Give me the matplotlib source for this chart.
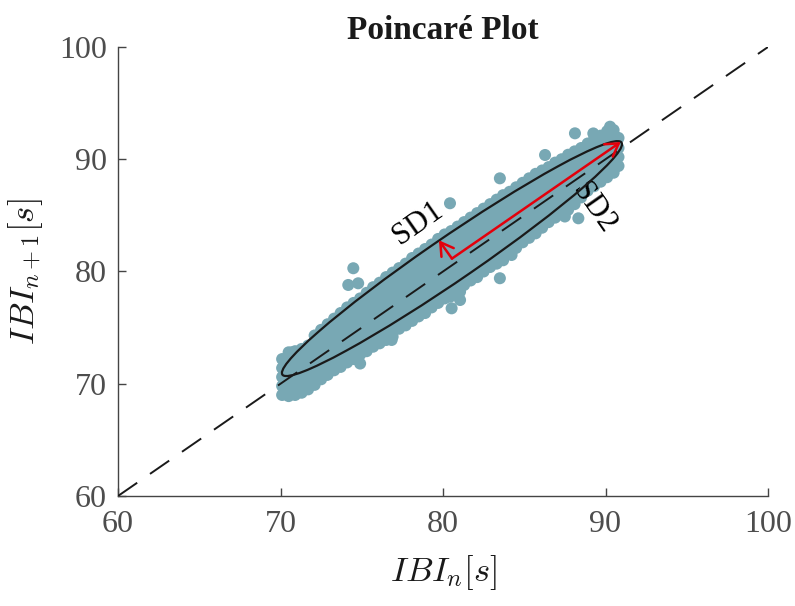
import matplotlib
matplotlib.use("Agg")
import matplotlib.pyplot as plt
from matplotlib.patches import Ellipse

# ---- data ----
col_x = [70.1, 70.5, 70.9, 71.3, 71.7, 72.1, 72.5, 72.9, 73.3, 73.7, 74.1, 74.5, 74.9,
         75.3, 75.7, 76.1, 76.5, 76.9, 77.3, 77.7, 78.1, 78.5, 78.9, 79.3, 79.7, 80.1,
         80.5, 80.9, 81.3, 81.7, 82.1, 82.5, 82.9, 83.3, 83.7, 84.1, 84.5, 84.9, 85.3,
         85.7, 86.1, 86.5, 86.9, 87.3, 87.7, 88.1, 88.5, 88.9, 89.3, 89.7, 90.1, 90.5, 90.8]
col_y = [
    [69.0, 69.8, 70.6, 71.4, 72.2],
    [68.9, 69.7, 70.5, 71.3, 72.1, 72.8],
    [69.0, 69.8, 70.6, 71.4, 72.2, 72.9],
    [69.2, 70.0, 70.8, 71.6, 72.4, 73.1],
    [69.5, 70.3, 71.1, 71.9, 72.7, 73.4],
    [69.9, 70.7, 71.5, 72.3, 73.1, 73.8, 74.3],
    [70.4, 71.2, 72.0, 72.8, 73.6, 74.3, 74.8],
    [70.8, 71.6, 72.4, 73.2, 74.0, 74.7, 75.3],
    [71.2, 72.0, 72.8, 73.6, 74.4, 75.1, 75.8],
    [71.5, 72.3, 73.1, 73.9, 74.7, 75.5, 76.3],
    [71.9, 72.7, 73.5, 74.3, 75.1, 75.9, 76.8],
    [72.2, 73.0, 73.8, 74.6, 75.4, 76.2, 77.0, 77.2],
    [71.8, 72.6, 73.4, 74.2, 75.0, 75.8, 76.6, 77.6],
    [72.9, 73.7, 74.5, 75.3, 76.1, 76.9, 77.6, 78.1],
    [73.3, 74.1, 74.9, 75.7, 76.5, 77.3, 78.0, 78.6],
    [73.6, 74.4, 75.2, 76.0, 76.8, 77.6, 78.3, 79.0],
    [73.9, 74.7, 75.5, 76.3, 77.1, 77.9, 78.7, 79.5],
    [74.2, 75.0, 75.8, 76.6, 77.4, 78.2, 79.0, 79.9],
    [74.9, 75.7, 76.5, 77.3, 78.1, 78.9, 79.6, 80.3],
    [75.2, 76.0, 76.8, 77.6, 78.4, 79.2, 80.0, 80.7],
    [75.6, 76.4, 77.2, 78.0, 78.8, 79.6, 80.4, 81.2],
    [76.0, 76.8, 77.6, 78.4, 79.2, 80.0, 80.8, 81.6],
    [76.3, 77.1, 77.9, 78.7, 79.5, 80.3, 81.1, 82.0],
    [76.8, 77.6, 78.4, 79.2, 80.0, 80.8, 81.6, 82.4],
    [77.2, 78.0, 78.8, 79.6, 80.4, 81.2, 82.0, 82.9],
    [77.6, 78.4, 79.2, 80.0, 80.8, 81.6, 82.4, 83.3],
    [78.0, 78.8, 79.6, 80.4, 81.2, 82.0, 82.8, 83.6],
    [78.4, 79.2, 80.0, 80.8, 81.6, 82.4, 83.2, 84.0],
    [78.8, 79.6, 80.4, 81.2, 82.0, 82.8, 83.6, 84.4],
    [79.2, 80.0, 80.8, 81.6, 82.4, 83.2, 84.0, 84.8],
    [79.5, 80.3, 81.1, 81.9, 82.7, 83.5, 84.3, 85.2],
    [80.0, 80.8, 81.6, 82.4, 83.2, 84.0, 84.8, 85.6],
    [80.4, 81.2, 82.0, 82.8, 83.6, 84.4, 85.2, 86.0],
    [80.7, 81.5, 82.3, 83.1, 83.9, 84.7, 85.5, 86.4],
    [81.0, 81.8, 82.6, 83.4, 84.2, 85.0, 85.8, 86.8],
    [81.6, 82.4, 83.2, 84.0, 84.8, 85.6, 86.4, 87.1],
    [82.1, 82.9, 83.7, 84.5, 85.3, 86.1, 86.9, 87.5],
    [82.6, 83.4, 84.2, 85.0, 85.8, 86.6, 87.3, 87.9],
    [83.0, 83.8, 84.6, 85.4, 86.2, 87.0, 87.7, 88.3],
    [83.4, 84.2, 85.0, 85.8, 86.6, 87.4, 88.1, 88.7],
    [83.9, 84.7, 85.5, 86.3, 87.1, 87.9, 88.5, 89.0],
    [84.4, 85.2, 86.0, 86.8, 87.6, 88.4, 89.0, 89.3],
    [84.8, 85.6, 86.4, 87.2, 88.0, 88.8, 89.3, 89.7],
    [85.1, 85.9, 86.7, 87.5, 88.3, 89.1, 89.6, 90.0],
    [85.5, 86.3, 87.1, 87.9, 88.7, 89.5, 90.0, 90.4],
    [86.0, 86.8, 87.6, 88.4, 89.2, 90.0, 90.7],
    [86.6, 87.4, 88.2, 89.0, 89.8, 90.5, 91.0],
    [87.2, 88.0, 88.8, 89.6, 90.4, 91.0, 91.4],
    [87.6, 88.4, 89.2, 90.0, 90.8, 91.4, 91.8],
    [88.0, 88.8, 89.6, 90.4, 91.2, 91.7, 92.1],
    [88.4, 89.2, 90.0, 90.8, 91.6, 92.1, 92.5],
    [88.8, 89.6, 90.4, 91.2, 92.0, 92.6],
    [89.4, 90.2, 91.0, 91.9],
]
outlier_x = [74.48, 74.17, 74.78, 80.53, 81.05, 81.05, 80.43, 76.84, 83.5, 82.07,
             80.43, 83.5, 86.28, 88.12, 90.28, 89.25, 88.33, 87.5, 86.8, 84.22,
             81.05, 72.84, 70.7]
outlier_y = [80.29, 78.8, 78.95, 76.72, 77.46, 78.2, 77.75, 73.9, 79.4, 79.7,
             86.08, 88.3, 90.38, 92.31, 92.9, 92.3, 84.74, 84.9, 85.5, 81.47,
             78.35, 70.8, 72.8]

center = (80.55, 81.15)
sd2_tip = (90.94, 91.54)
sd1_tip = (79.75, 82.78)
ell_width = 29.4
ell_height = 3.4
ell_angle = 45

ticks = [60, 70, 80, 90, 100]

ibi_n = []
ibi_n1 = []
for x, ys in zip(col_x, col_y):
    for y in ys:
        ibi_n.append(x)
        ibi_n1.append(y)
ibi_n += outlier_x
ibi_n1 += outlier_y

# ---- style ----
plt.rcParams['font.family'] = ['Liberation Serif', 'DejaVu Serif']
plt.rcParams['mathtext.fontset'] = 'cm'

fig = plt.figure(figsize=(7.95, 6.06), dpi=100)
ax = fig.add_axes([118/795, 110/606, 650/795, 449/606])

ax.scatter(ibi_n, ibi_n1, s=75, color='#78A8B4', edgecolors='none', zorder=2)
ax.plot([60, 100], [60, 100], color='#1a1a1a', lw=1.4, dashes=(12, 8), zorder=3)
ax.add_patch(Ellipse(center, ell_width, ell_height, angle=ell_angle, fill=False,
                     edgecolor='#1a1a1a', lw=1.6, zorder=4))

red = '#E3000B'
for tip in (sd2_tip, sd1_tip):
    ax.annotate('', xy=tip, xytext=center,
                arrowprops=dict(arrowstyle='->,head_length=0.5,head_width=0.3',
                                color=red, lw=1.8, mutation_scale=18,
                                shrinkA=0, shrinkB=0), zorder=5)

ax.text(78.48, 84.29, 'SD1', rotation=35, ha='center', va='center',
        fontsize=22, color='black', rotation_mode='anchor')
ax.text(89.25, 85.63, 'SD2', rotation=-55, ha='center', va='center',
        fontsize=22, color='black', rotation_mode='anchor')

ax.set_xlim(60, 100)
ax.set_ylim(60, 100)
ax.set_xticks(ticks)
ax.set_yticks(ticks)
ax.set_xticklabels([str(t) for t in ticks])
ax.set_yticklabels([str(t) for t in ticks])
for side in ('top', 'right'):
    ax.spines[side].set_visible(False)
for side in ('left', 'bottom'):
    ax.spines[side].set_color('#444444')
    ax.spines[side].set_linewidth(1.0)
ax.tick_params(direction='in', length=6, width=1.0, color='#444444',
               labelcolor='#4D4D4D', labelsize=23)
ax.tick_params(axis='x', pad=10)
ax.tick_params(axis='y', pad=8)

ax.set_title('Poincaré Plot', fontsize=24, fontweight='bold', color='#1a1a1a', pad=6)
ax.set_xlabel(r'$IBI_n[s]$', fontsize=25, color='#1a1a1a', labelpad=10)
ax.set_ylabel(r'$IBI_{n+1}[s]$', fontsize=25, color='#1a1a1a', labelpad=10)

fig.savefig('out.png', dpi=100)
